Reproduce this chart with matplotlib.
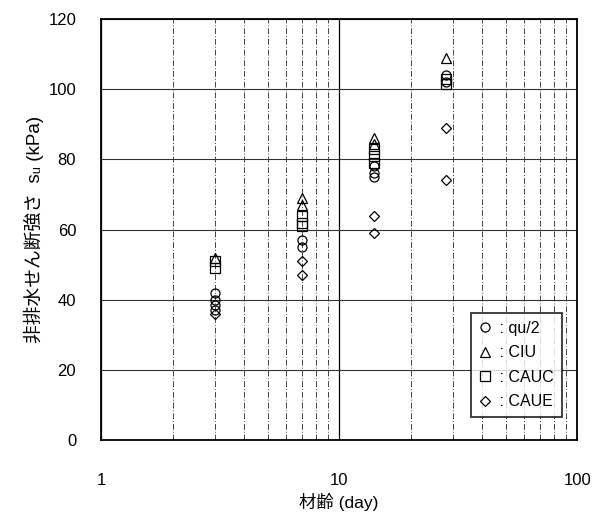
import matplotlib.pyplot as plt
from matplotlib.ticker import FixedLocator, NullFormatter

plt.rcParams['font.family'] = ['Liberation Sans', 'Noto Sans CJK JP', 'DejaVu Sans']

# data
qu_days = [3, 3, 3, 3, 7, 7, 14, 14, 14, 28, 28]
qu_vals = [42, 40, 38.5, 37, 57, 55, 78, 76, 75, 104, 102]

ciu_days = [3, 7, 7, 14, 14, 28]
ciu_vals = [52, 69, 67, 86, 84.5, 109]

cauc_days = [3, 3, 7, 7, 7, 14, 14, 14, 28, 28]
cauc_vals = [51, 49, 64, 62, 61, 83, 81, 79, 103, 101.5]

caue_days = [3, 7, 7, 14, 14, 28, 28]
caue_vals = [36, 51, 47, 64, 59, 89, 74]

labels = [' : qu/2', ' : CIU', ' : CAUC', ' : CAUE']
markers = ['o', '^', 's', 'D']

fig = plt.figure(figsize=(5.95, 5.16), dpi=100)
ax = fig.add_axes([0.170, 0.147, 0.800, 0.816])

series = [(qu_days, qu_vals), (ciu_days, ciu_vals),
          (cauc_days, cauc_vals), (caue_days, caue_vals)]
for (d, v), m, lab in zip(series, markers, labels):
    ms = 6.5 if m != 'D' else 5.5
    ax.plot(d, v, linestyle='none', marker=m, markersize=ms,
            markerfacecolor='none', markeredgecolor='black',
            markeredgewidth=0.9, label=lab)

ax.set_xscale('log')
ax.set_xlim(1, 100)
ax.set_ylim(0, 120)
ax.set_yticks(range(0, 121, 20))
ax.xaxis.set_major_locator(FixedLocator([1, 10, 100]))
ax.set_xticklabels(['1', '10', '100'])
ax.xaxis.set_minor_locator(FixedLocator([2, 3, 4, 5, 6, 7, 8, 9,
                                         20, 30, 40, 50, 60, 70, 80, 90]))
ax.xaxis.set_minor_formatter(NullFormatter())

ax.grid(True, which='major', axis='x', color='black', linewidth=0.9)
ax.grid(True, which='minor', axis='x', color='#444444', linewidth=0.7,
        linestyle=(0, (6, 2, 1, 2)))
ax.grid(True, which='major', axis='y', color='#333333', linewidth=0.8)
ax.set_axisbelow(True)

ax.tick_params(axis='both', which='both', length=0, labelsize=12)
ax.tick_params(axis='x', pad=24)
ax.tick_params(axis='y', pad=18)
for s in ax.spines.values():
    s.set_linewidth(1.3)

ax.set_xlabel('材齢 (day)', fontsize=12.5, labelpad=3)
ax.set_ylabel('非排水せん断強さ  s\u1d64 (kPa)', fontsize=13.5, labelpad=3)

leg = ax.legend(loc='lower right', bbox_to_anchor=(0.985, 0.035),
                fontsize=11.5, frameon=True, fancybox=False, shadow=False,
                handlelength=0.7, handletextpad=0.3, borderpad=0.5,
                labelspacing=0.6, edgecolor='black')
leg.get_frame().set_linewidth(1.3)

fig.savefig('out.png', dpi=100)
